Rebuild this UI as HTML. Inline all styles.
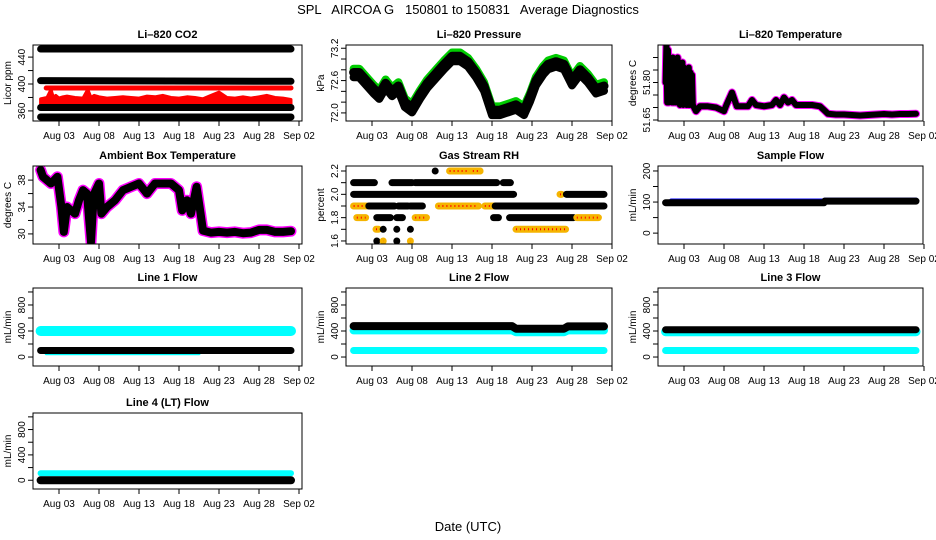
<!DOCTYPE html>
<html><head><meta charset="utf-8">
<style>
html,body{margin:0;padding:0;background:#fff;}
svg{display:block;font-family:"Liberation Sans",Arial,sans-serif;}
</style></head>
<body>
<svg id="chart" width="936" height="540" viewBox="0 0 936 540">
<text x="468" y="14" text-anchor="middle" font-size="13" xml:space="preserve" style="white-space:pre">SPL   AIRCOA G   150801 to 150831   Average Diagnostics</text>
<text x="468" y="531" text-anchor="middle" font-size="13">Date (UTC)</text>
</svg>
<script>
// ---- data ----
const xTickDays = [3, 8, 13, 18, 23, 28, 33];
const xTickLabels = ["Aug 03","Aug 08","Aug 13","Aug 18","Aug 23","Aug 28","Sep 02"];
const spanDays = [0.7, 32];

const co2HighVals = [452, 452];
const co2MidVals = [405, 404];
const co2LowVals = [365, 365];
const co2BottomVals = [351, 351];
const co2RedBandVals = [394, 394];
const co2RedDays = [0.7,1.5,2,2.3,2.6,3,3.5,4,5,6,6.6,7,7.4,8,9,10,11,12,13,14,15,16,17,18,19,20,21,22,23,24,25,26,27,28,29,30,31,32];
const co2RedTop = [378,380,392,380,383,379,381,382,380,379,392,380,383,381,379,380,381,380,379,382,381,383,380,379,381,380,378,383,388,380,379,381,379,381,383,380,379,377];

const presDays = [0.7,1.4,2.6,3.2,3.9,4.7,5.5,6.3,7.1,8,9,9.9,11.1,12,13,14,15,16,17,18,19,20,21,22,22.75,23.5,24.4,25,26,27,28,29,30,31,32];
const presVals = [72.75,72.75,72.55,72.45,72.35,72.55,72.4,72.5,72.2,72.1,72.35,72.55,72.75,72.9,73.05,73.05,72.95,72.75,72.5,72.05,72.05,72.1,72.15,72.05,72.3,72.6,72.8,72.9,72.95,72.9,72.6,72.8,72.65,72.45,72.5];

const ltDays = [0.7,0.8,0.9,1.0,1.1,1.2,1.3,1.4,1.5,1.6,1.7,1.8,1.9,2.0,2.1,2.2,2.3,2.4,2.5,2.6,2.7,2.8,2.9,3.0,3.1,3.2,3.3,3.4,3.5,3.6,3.7,3.8,3.9,4.0,4.1,4.5,5,6,7,8,8.3,9,9.6,10,11,11.5,12,13,14,14.5,15,15.5,16,16.5,17,18,19,20,20.5,21,22,23,24,25,26,27,28,29,30,31,32];
const ltVals = [51.80,51.95,51.72,51.93,51.72,51.9,51.73,51.88,51.72,51.9,51.72,51.86,51.72,51.87,51.72,51.9,51.72,51.86,51.71,51.87,51.72,51.88,51.71,51.86,51.72,51.85,51.71,51.84,51.71,51.86,51.71,51.84,51.71,51.83,51.71,51.685,51.705,51.705,51.7,51.685,51.71,51.76,51.705,51.705,51.705,51.73,51.71,51.705,51.71,51.73,51.71,51.74,51.72,51.73,51.71,51.71,51.71,51.705,51.69,51.675,51.672,51.672,51.67,51.668,51.67,51.672,51.674,51.672,51.674,51.674,51.675];

const ambDays = [0.7,1,2,2.8,3.3,3.6,4,5,5.5,6,6.5,7,7.2,7.4,8,8.3,9,10,11,12,13,14,15,16,17,18,18.4,19,19.5,20.2,20.7,21,22,23,24,25,26,27,28,29,30,31,32];
const ambVals = [39.5,38.5,37.5,38.5,34,30.3,34,33,35,36.5,36,28.8,33,36,37.5,33,34,35,36.5,37,37.5,36,37.5,37.5,37.5,36.5,33.5,35,33,37,33,30.5,30.2,30.3,30.2,30.3,30.1,30.2,30.6,30.6,30.3,30.3,30.4];

const rhLevel = [2.2,2.2,2.2,2.1,2.1,2.1,2.1,2.0,2.0,2.0,1.9,1.9,1.9,1.9,1.9,1.9,1.9,1.8,1.8,1.8,1.8,1.8,1.8,1.8,1.7,1.7,1.7,1.7,1.7,1.6,1.6,1.6,1.6];
const rhStart = [10.9,12.7,15.6,0.7,5.5,8.4,19.4,0.7,26.5,27.3,0.7,2.6,6.3,7.8,11.3,17.1,18.4,1.1,3.6,6.1,8.4,18.2,20.2,28.6,3.5,4.4,6.1,7.8,21.0,3.6,4.4,6.1,7.8];
const rhEnd = [10.9,16.5,16.5,3.3,8.0,18.6,20.3,20.7,26.7,32,2.3,5.8,7.5,9.3,16.3,18.3,32,2.2,5.3,6.8,9.8,18.8,28.2,31.3,3.8,4.4,6.1,7.8,27.2,3.6,4.4,6.1,7.8];
const rhKind = ["b","o","o","b","b","b","b","b","o","b","o","b","b","b","o","o","b","o","b","b","o","b","b","o","o","b","b","b","o","b","o","b","o"];

const sfBlackDays = [0.7,20.5,20.6,32];
const sfBlackVals = [98,98,103,103];
const sfBlueDays = [1.4,20.5,20.6,32];
const sfBlueVals = [105,105,108,108];

const l1Cyan = [400,400];
const l1CyanLowDays = [1.4,20.5];
const l1CyanLow = [50,50];
const l1Black = [100,100];
const l2CyanLow = [100,100];
const l2CyanDays = [0.7,20.5,21,27,27.5,32];
const l2Cyan = [410,410,380,380,410,410];
const l2Black = [475,475,435,435,470,470];
const l3CyanLow = [100,100];
const l3Cyan = [390,390];
const l3Black = [420,420];
const l4Cyan = [110,110];
const l4Black = [0,0];

// ---- layout ----
const NS = "http://www.w3.org/2000/svg";
const svg = document.getElementById("chart");
const colLeft = [33, 346, 658], colRight = [302, 612, 923];
const rowTop = [45, 166, 288, 413], rowBot = [121, 244, 366, 489];

function el(tag, attrs, parent) {
  const e = document.createElementNS(NS, tag);
  for (const k in attrs) e.setAttribute(k, attrs[k]);
  (parent || svg).appendChild(e);
  return e;
}

function panel(name, col, row, title, ylab, ymin, ymax, ticks, labels) {
  const L = colLeft[col], R = colRight[col], T = rowTop[row], B = rowBot[row];
  const g = el("g", {});
  
  
  const x = d => L + (d + 0.25) * 8;
  const y = v => B - (v - ymin) / (ymax - ymin) * (B - T);
  const clipId = "clip" + col + row;
  const cp = el("clipPath", {id: clipId}, g);
  el("rect", {x: L, y: T, width: R - L, height: B - T}, cp);
  const plot = el("g", {"clip-path": "url(#" + clipId + ")"}, g);
  
  
  const box = el("rect", {x: L, y: T, width: R - L, height: B - T, fill: "none", stroke: "#000", "stroke-width": 1}, g);
  
  
  const t = el("text", {x: (L + R) / 2, y: T - 7, "text-anchor": "middle", "font-size": 11, "font-weight": "bold"}, g);
  t.textContent = title;
  
  
  const yl = el("text", {x: 0, y: 0, "text-anchor": "middle", "font-size": 10, transform: "translate(" + (L - 22) + "," + ((T + B) / 2) + ") rotate(-90)"}, g);
  yl.textContent = ylab;
  
  
  ticks.forEach((v, i) => {
    const ty = y(v);
    const tk = el("line", {x1: L - 5, x2: L, y1: ty, y2: ty, stroke: "#000"}, g);
    
    
    if (labels[i]) {
      const tl = el("text", {x: 0, y: 0, "text-anchor": "middle", "font-size": 10, transform: "translate(" + (L - 8) + "," + ty + ") rotate(-90)"}, g);
      tl.textContent = labels[i];
      
      
    }
  });
  xTickDays.forEach((d, i) => {
    const tx = x(d);
    const tk = el("line", {x1: tx, x2: tx, y1: B, y2: B + 5, stroke: "#000"}, g);
    
    
    const tl = el("text", {x: tx, y: B + 18, "text-anchor": "middle", "font-size": 10}, g);
    tl.textContent = xTickLabels[i];
    
    
  });
  return {x, y, plot};
}

function series(p, name, days, vals, color, widthPx) {
  const pts = days.map((d, i) => p.x(d).toFixed(1) + "," + p.y(vals[i]).toFixed(1)).join(" ");
  const s = el("polyline", {points: pts, fill: "none", stroke: color, "stroke-width": widthPx, "stroke-linejoin": "round", "stroke-linecap": "round"}, p.plot);
  
  
  return s;
}
const addV = (arr, k) => arr.map(v => v + k);

// Li-820 CO2
const pCo2 = panel("co2", 0, 0, "Li\u2013820 CO2", "Licor ppm", 345, 458, [360,380,400,420,440], ["360","","400","","440"]);
series(pCo2, "co2-high-band", spanDays, co2HighVals, "#000", 7);
series(pCo2, "co2-mid-band", spanDays, co2MidVals, "#000", 7);
const redPts = co2RedDays.map((d, i) => pCo2.x(d).toFixed(1) + "," + pCo2.y(co2RedTop[i]).toFixed(1));
const redPoly = el("polygon", {points: redPts.join(" ") + " " + pCo2.x(32).toFixed(1) + "," + pCo2.y(368) + " " + pCo2.x(0.7).toFixed(1) + "," + pCo2.y(368), fill: "#f00", stroke: "#f00", "stroke-width": 3, "stroke-linejoin": "round"}, pCo2.plot);


series(pCo2, "co2-red-band", [1.4, 32], co2RedBandVals, "#f00", 5);
series(pCo2, "co2-low-band", spanDays, co2LowVals, "#000", 7);
series(pCo2, "co2-bottom-band", spanDays, co2BottomVals, "#000", 7);

// Pressure
const pP = panel("pressure", 1, 0, "Li\u2013820 Pressure", "kPa", 71.85, 73.26, [72.0,72.2,72.4,72.6,72.8,73.0,73.2], ["72.0","","","72.6","","","73.2"]);
series(pP, "pressure-green-series", presDays, addV(presVals, 0.07), "#0c0", 8);
series(pP, "pressure-black-series", presDays, presVals, "#000", 9);
series(pP, "pressure-black-lower", presDays, addV(presVals, -0.09), "#000", 8);

// Li-820 Temperature
const pT = panel("li820-temp", 2, 0, "Li\u2013820 Temperature", "degrees C", 51.646, 51.95, [51.65,51.70,51.75,51.80,51.85,51.90], ["51.65","","","51.80","",""]);
series(pT, "li820-temp-magenta", ltDays, ltVals, "#f0f", 8);
series(pT, "li820-temp-black", ltDays, ltVals, "#000", 6);

// Ambient
const pA = panel("ambient-temp", 0, 1, "Ambient Box Temperature", "degrees C", 28.5, 40.1, [30,32,34,36,38], ["30","","34","","38"]);
series(pA, "ambient-magenta", ambDays, ambVals, "#f0f", 11);
series(pA, "ambient-black", ambDays, ambVals, "#000", 8);

// Gas Stream RH
const pR = panel("gas-rh", 1, 1, "Gas Stream RH", "percent", 1.574, 2.243, [1.6,1.7,1.8,1.9,2.0,2.1,2.2], ["1.6","","1.8","","2.0","","2.2"]);
rhLevel.forEach((lv, i) => {
  const orange = rhKind[i] === "o";
  const s = el("line", {x1: pR.x(rhStart[i]), x2: pR.x(rhEnd[i]), y1: pR.y(lv), y2: pR.y(lv),
    stroke: orange ? "#f5b400" : "#000", "stroke-width": 7, "stroke-linecap": "round"}, pR.plot);
  
  
  if (orange) {
    const r = el("line", {x1: pR.x(rhStart[i]), x2: pR.x(rhEnd[i]), y1: pR.y(lv), y2: pR.y(lv),
      stroke: "#f00", "stroke-width": 2, "stroke-dasharray": "1 3", "stroke-linecap": "butt"}, pR.plot);
    
    
  }
});

// Sample Flow
const pS = panel("sample-flow", 2, 1, "Sample Flow", "mL/min", -35, 216, [0,50,100,150,200], ["0","","100","","200"]);
series(pS, "sample-flow-blue", sfBlueDays, sfBlueVals, "#00f", 4);
series(pS, "sample-flow-black", sfBlackDays, sfBlackVals, "#000", 7);

// Flow panels
const fmin = -138, fmax = 1061, fT = [0,200,400,600,800,1000], fL = ["0","","400","","800",""];
const p1 = panel("line1-flow", 0, 2, "Line 1 Flow", "mL/min", fmin, fmax, fT, fL);
series(p1, "line1-cyan-series", spanDays, l1Cyan, "#0ff", 10);
series(p1, "line1-cyan-low", l1CyanLowDays, l1CyanLow, "#0ff", 3);
series(p1, "line1-black-series", spanDays, l1Black, "#000", 7);

const p2 = panel("line2-flow", 1, 2, "Line 2 Flow", "mL/min", fmin, fmax, fT, fL);
series(p2, "line2-cyan-low", spanDays, l2CyanLow, "#0ff", 7);
series(p2, "line2-cyan-series", l2CyanDays, l2Cyan, "#0ff", 8);
series(p2, "line2-black-series", l2CyanDays, l2Black, "#000", 8);

const p3 = panel("line3-flow", 2, 2, "Line 3 Flow", "mL/min", fmin, fmax, fT, fL);
series(p3, "line3-cyan-low", spanDays, l3CyanLow, "#0ff", 7);
series(p3, "line3-cyan-series", spanDays, l3Cyan, "#0ff", 9);
series(p3, "line3-black-series", spanDays, l3Black, "#000", 7);

const p4 = panel("line4-flow", 0, 3, "Line 4 (LT) Flow", "mL/min", fmin, fmax, fT, fL);
series(p4, "line4-cyan-series", spanDays, l4Cyan, "#0ff", 6);
series(p4, "line4-black-series", spanDays, l4Black, "#000", 8);
</script>
</body></html>
